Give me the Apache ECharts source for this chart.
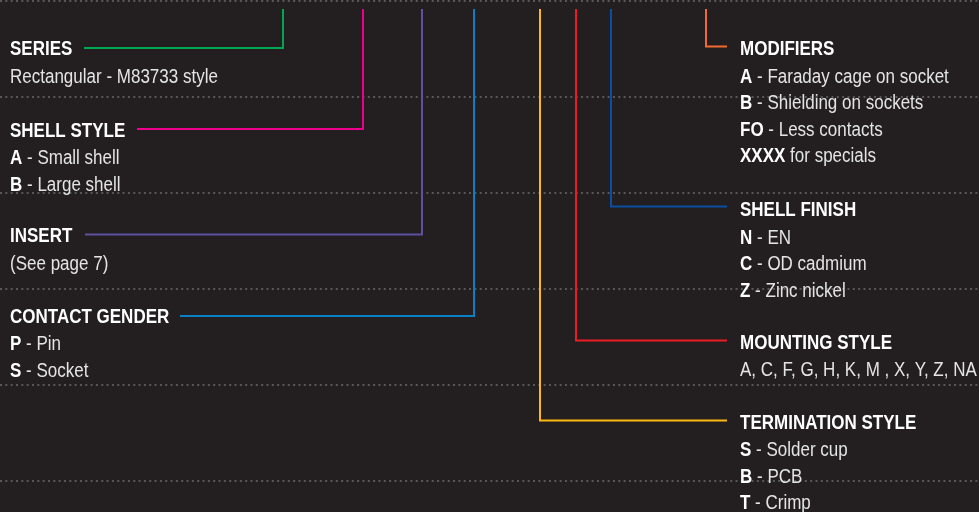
<!DOCTYPE html>
<html>
<head>
<meta charset="utf-8">
<script src="https://cdn.jsdelivr.net/npm/echarts@6/dist/echarts.min.js"></script>
<style>
html,body{margin:0;padding:0;background:#231f20;}
#chart{width:979px;height:512px;}
</style>
</head>
<body>
<div id="chart"></div>
<script>
// ---- data ----
const headers = ['SERIES', 'SHELL STYLE', 'INSERT', 'CONTACT GENDER', 'MODIFIERS', 'SHELL FINISH', 'MOUNTING STYLE', 'TERMINATION STYLE'];
const items = [
  [['', 'Rectangular - M83733 style']],
  [['A', ' - Small shell'], ['B', ' - Large shell']],
  [['', '(See page 7)']],
  [['P', ' - Pin'], ['S', ' - Socket']],
  [['A', ' - Faraday cage on socket'], ['B', ' - Shielding on sockets'], ['FO', ' - Less contacts'], ['XXXX', ' for specials']],
  [['N', ' - EN'], ['C', ' - OD cadmium'], ['Z', ' - Zinc nickel']],
  [['', 'A, C, F, G, H, K, M , X, Y, Z, NA']],
  [['S', ' - Solder cup'], ['B', ' - PCB'], ['T', ' - Crimp']]
];
const colors = ['#00a651', '#ec008c', '#5f51a1', '#0a7fc4', '#f26a2e', '#0a4fa3', '#ed1c24', '#fdb913'];
const headerX = [10, 10, 10, 10, 740, 740, 740, 740];
const headerY = [48.5, 130, 235.5, 316.2, 48.5, 209.5, 342.2, 422.2];
const stemX = [283, 363, 422, 474, 706, 611, 576, 540];
const stemTop = [8, 8, 8, 8, 8, 8, 8, 8];
const elbowY = [47, 128, 233.5, 315, 45.5, 205.5, 339.5, 419.5];
const leaderEndX = [84, 137, 85, 180, 727, 727, 727, 727];

// ---- build ----
const itemOffset = 27.5, itemStep = 26.6;
const textData = [];
headers.forEach((h, i) => {
  textData.push([headerX[i], headerY[i], '{h|' + h + '}']);
  items[i].forEach((it, j) => {
    const s = (it[0] ? '{k|' + it[0] + '}' : '') + '{d|' + it[1] + '}';
    textData.push([headerX[i], headerY[i] + itemOffset + j * itemStep, s]);
  });
});

const connectorSeries = headers.map((h, i) => ({
  type: 'line',
  name: h,
  showSymbol: false,
  silent: true,
  animation: false,
  z: 3,
  lineStyle: { color: colors[i], width: 2, cap: 'butt', join: 'miter' },
  data: [[stemX[i], stemTop[i]], [stemX[i], elbowY[i]], [leaderEndX[i], elbowY[i]]]
}));

const fontFam = 'Liberation Sans, Arial, sans-serif';
const chart = echarts.init(document.getElementById('chart'), null, { renderer: 'canvas' });
chart.setOption({
  backgroundColor: '#231f20',
  animation: false,
  grid: { left: 0, top: 1, width: 979, height: 480, containLabel: false, outerBoundsMode: 'none' },
  xAxis: { type: 'value', min: 0, max: 979, show: false },
  yAxis: {
    type: 'value', min: 0, max: 480, interval: 96, inverse: true,
    axisLine: { show: false }, axisTick: { show: false }, axisLabel: { show: false },
    splitLine: { show: true, lineStyle: { color: '#58575a', width: 2, type: [2, 3.33] } }
  },
  series: connectorSeries.concat([{
    type: 'custom',
    silent: true,
    z: 5,
    clip: false,
    data: textData,
    renderItem: function (params, api) {
      const p = api.coord([api.value(0), api.value(1)]);
      return {
        type: 'text',
        x: p[0], y: p[1],
        scaleX: 0.85,
        style: {
          text: textData[params.dataIndex][2],
          align: 'left', verticalAlign: 'middle',
          rich: {
            h: { fontFamily: fontFam, fontWeight: 'bold', fontSize: 20, fill: '#ffffff', color: '#ffffff' },
            k: { fontFamily: fontFam, fontWeight: 'bold', fontSize: 20, fill: '#ffffff', color: '#ffffff' },
            d: { fontFamily: fontFam, fontWeight: 'normal', fontSize: 20, fill: '#e4e4e4', color: '#e4e4e4' }
          }
        }
      };
    }
  }])
});
</script>
</body>
</html>
